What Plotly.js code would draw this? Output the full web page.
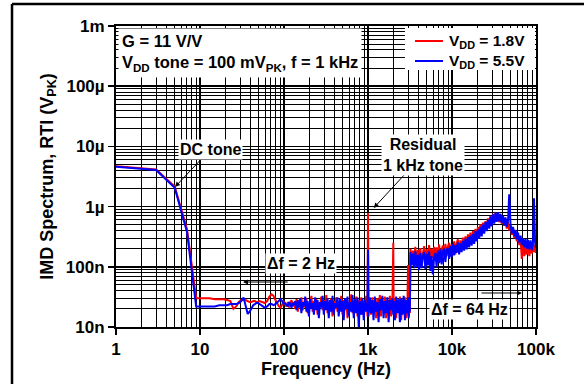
<!DOCTYPE html>
<html>
<head>
<meta charset="utf-8">
<script src="https://cdn.plot.ly/plotly-3.0.1.min.js"></script>
<style>html,body{margin:0;padding:0;background:#fff;}#chart{width:584px;height:384px;}</style>
</head>
<body>
<div id="chart"></div>
<script>
// ---- Data (frequency in Hz, amplitude in nV peak) ----
const lowFreq = [1,3,5,7,9,11,13,15,17,19,21,23,25,27,29,31,33,35,37,39,41,43,45,47,49,51,55,59,63,67,71,75,79,83,87,91,95,99];
const midFreq = [103,107,111,115,119,123,127,131,136,141,
  146,151,156,161,167,173,179,185,191,198,
  205,212,219,227,235,243,251,260,269,278,
  288,298,308,319,330,341,353,365,378,391,
  405,419,433,448,464,480,497,514,532,551,
  570,590,611,632,654,677,701,725,750,776,
  803,831,860,890,921,953,986,1000,1014,1050,
  1087,1125,1164,1205,1247,1291,1336,1383,1431,1481,
  1533,1587,1642,1700,1760,1822,1886,1952,2000,2020,
  2090,2163,2239,2317,2398,2482,2569,2659,2752,2848,
  2948,3000,3051,3110,3150];
const highFreq = [3200,3310,3420,3540,3660,3790,3920,4060,4200,4350,
  4500,4660,4820,4990,5160,5340,5530,5720,5920,6130,
  6340,6560,6790,7030,7280,7530,7790,8060,8340,8630,
  8930,9240,9560,9900,10240,10600,10970,11350,11750,12160,
  12580,13020,13480,13950,14440,14940,15460,16000,16560,17140,
  17740,18360,19000,19670,20360,21070,21800,22570,23360,24170,
  25020,25890,26800,27730,28700,29710,30750,31820,32940,34090,
  35280,36510,37790,39110,40480,41900,43360,44880,46450,48000,
  49750,51490,53300,55160,57090,59090,61160,63300,65510,67800,
  70180,72630,75170,77810,80530,83350,86260,89280,92410,94700,
  97600,100000];

const redLow = [4700,4150,2150,420,30,30,30,29,29,29,28,27,20,22,26,28,28,28,27,26,26,27,27,26,26,27,26,25,27,32,35,33,28,25,22,21,23,26];
const redMid = [24,22,26,21,25,28,22,26,20,29,
  18,27,23,31,19,26,21,30,17,25,
  22,33,18,27,20,29,16,26,23,32,
  19,28,21,34,17,25,22,30,15,27,
  20,31,18,26,21,33,16,28,19,30,
  14,26,22,35,17,27,20,32,15,28,
  19,31,16,27,21,33,15,780,19,29,
  16,31,18,26,14,30,20,34,15,27,
  19,32,14,28,21,33,15,26,250,18,
  30,14,27,20,32,13,28,19,31,14,
  26,107,15,24,17];
const redHigh = [200,120,185,135,215,110,190,145,205,120,
  175,220,115,195,135,230,125,200,140,215,
  130,210,150,235,125,195,225,140,240,150,
  215,250,150,235,170,265,160,245,285,175,
  275,190,305,200,320,215,345,240,370,250,
  390,265,425,290,460,320,505,350,540,390,
  575,410,640,450,700,500,760,540,790,570,
  770,550,730,520,680,480,620,430,550,400,
  500,340,440,300,390,265,340,230,290,135,
  260,150,230,160,245,150,235,165,250,175,
  230,170];

const blueLow = [4600,4050,2050,380,22,22,22,22,23,23,23,24,24,24,25,27,31,22,16.5,18,21,23,24,25,25,24,22,21,22,24,24,23,24,26,28,29,27,24];
const blueMid = [25,23,22,26,24,21,25,23,27,19,
  28,21,30,17,26,22,32,18,27,15,
  29,20,25,16,31,19,28,14,26,21,
  33,16,27,19,30,14,28,18,33,16,
  25,21,31,15,29,18,27,13,30,20,
  32,15,26,18,34,14,29,17,31,10,
  27,16,30,13,28,18,25,190,15,31,
  17,28,13,32,18,26,12,29,19,33,
  14,27,17,31,12,28,19,30,16,27,
  13,32,17,29,12,30,16,33,13,28,
  17,31,14,27,18];
const blueHigh = [175,105,165,95,180,100,160,88,170,95,
  150,175,92,165,105,180,85,150,75,145,
  170,100,185,115,195,110,180,200,120,190,
  205,135,220,145,240,155,230,170,255,160,
  245,175,270,185,290,195,310,210,330,225,
  350,240,390,265,420,290,460,320,500,355,
  550,390,610,430,680,470,740,520,790,560,
  800,570,760,530,710,490,660,460,580,1600,
  500,360,460,320,410,285,370,255,330,230,
  300,210,290,200,280,195,275,190,270,1380,
  250,205];

const seriesNames = ['V<sub>DD</sub> = 1.8V', 'V<sub>DD</sub> = 5.5V'];
const seriesColors = ['#ff0000', '#0000ff'];
const xTickVals = [1,10,100,1000,10000,100000];
const xTickText = ['1','10','100','1k','10k','100k'];
const yTickVals = [1e-8,1e-7,1e-6,1e-5,1e-4,1e-3];
const yTickText = ['10n','100n','1\u00b5','10\u00b5','100\u00b5','1m'];

// ---- Build ----
const freq = lowFreq.concat(midFreq, highFreq);
const toV = a => a.map(v => v * 1e-9);
const red = toV(redLow.concat(redMid, redHigh));
const blue = toV(blueLow.concat(blueMid, blueHigh));

const minorX = [], minorY = [];
for (let d = 0; d < 5; d++) for (let k = 2; k <= 9; k++) minorX.push(k * Math.pow(10, d));
for (let d = -8; d < -3; d++) for (let k = 2; k <= 9; k++) minorY.push(k * Math.pow(10, d));

const FAM = 'Liberation Sans, Arial, sans-serif';
const bf = (s) => ({family: FAM, size: s, color: '#000', weight: 'bold'});

const traces = [
  {x: freq, y: red, type: 'scatter', mode: 'lines', name: seriesNames[0], line: {color: seriesColors[0], width: 2}},
  {x: freq, y: blue, type: 'scatter', mode: 'lines', name: seriesNames[1], line: {color: seriesColors[1], width: 2}}
];

// manual legend placement (paper coords)
const legX0 = 0.688, legX1 = 0.9976, legY0 = 0.854, legY1 = 0.993;
const legLineX0 = 0.7119, legLineX1 = 0.7786, legTextX = 0.788;
const legRowY = [0.9501, 0.8837];

const L = Math.log10;
const annotations = [
  {xref: 'paper', yref: 'paper', x: 0, y: 1, xanchor: 'left', yanchor: 'top', xshift: 2, yshift: -2,
   text: 'G = 11 V/V<br>V<sub>DD</sub> tone = 100 mV<sub>PK</sub>, f = 1 kHz', align: 'left',
   showarrow: false, bgcolor: '#fff', font: bf(16.5), borderpad: 3},
  {x: L(5.04), y: L(2.12e-6), text: 'DC tone', showarrow: true, ax: 35, ay: -37, arrowhead: 2, arrowsize: 1, arrowwidth: 1, arrowcolor: '#000',
   bgcolor: '#fff', font: bf(16)},
  {x: L(1170), y: L(9.5e-7), text: 'Residual<br>1 kHz tone', showarrow: true, ax: 49, ay: -53, arrowhead: 2, arrowsize: 1, arrowwidth: 1, arrowcolor: '#000',
   bgcolor: '#fff', font: bf(16), align: 'center'},
  {x: 2.202, y: -6.953, text: '\u0394f = 2 Hz', showarrow: false, bgcolor: '#fff', font: bf(16)},
  {x: 4.214, y: -7.701, text: '\u0394f = 64 Hz', showarrow: false, bgcolor: '#fff', font: bf(16)},
  {x: 1.512, y: -7.253, ax: 1.512 + 0.55, ay: -7.253, axref: 'x', ayref: 'y', text: '', showarrow: true, arrowhead: 2, arrowsize: 1, arrowwidth: 1, arrowcolor: '#000'},
  {x: 4.833, y: -7.435, ax: 4.833 - 0.5, ay: -7.435, axref: 'x', ayref: 'y', text: '', showarrow: true, arrowhead: 2, arrowsize: 1, arrowwidth: 1, arrowcolor: '#000'},
  // legend text (both rows in one block)
  {xref: 'paper', yref: 'paper', x: legTextX, y: (legRowY[0] + legRowY[1]) / 2, xanchor: 'left', yanchor: 'middle',
   text: seriesNames.join('<br>'), align: 'left', showarrow: false, font: bf(15.5)}
];

const shapes = [
  {type: 'line', xref: 'paper', yref: 'paper', x0: -0.2476, x1: -0.2476, y0: -0.25, y1: 1.0731, line: {color: '#000', width: 2.5}},
  {type: 'line', xref: 'paper', yref: 'paper', x0: -0.2476, x1: 1.13, y0: 1.0731, y1: 1.0731, line: {color: '#000', width: 2.5}},
  {type: 'rect', xref: 'paper', yref: 'paper', layer: 'above', x0: legX0, x1: legX1, y0: legY0, y1: legY1, fillcolor: '#fff', line: {width: 0}}
];
seriesColors.forEach((c, i) => shapes.push({
  type: 'line', xref: 'paper', yref: 'paper', layer: 'above', x0: legLineX0, x1: legLineX1, y0: legRowY[i], y1: legRowY[i],
  line: {color: c, width: 2}
}));

const axisCommon = {
  type: 'log', tickmode: 'array', showgrid: true, gridcolor: '#000', gridwidth: 1.5,
  showline: true, linecolor: '#000', linewidth: 2, mirror: true,
  ticks: 'outside', ticklen: 6, tickwidth: 1.5, tickcolor: '#000',
  tickfont: bf(17), zeroline: false
};

const layout = {
  width: 584, height: 384,
  margin: {l: 116, r: 48, t: 26, b: 57},
  paper_bgcolor: '#fff', plot_bgcolor: '#fff',
  font: {family: FAM, color: '#000', weight: 'bold'},
  showlegend: false,
  xaxis: Object.assign({}, axisCommon, {
    range: [0, 5], tickvals: xTickVals, ticktext: xTickText,
    minor: {tickmode: 'array', tickvals: minorX, showgrid: true, gridcolor: '#000', gridwidth: 1, ticks: ''},
    title: {text: 'Frequency (Hz)', font: bf(18), standoff: 2}
  }),
  yaxis: Object.assign({}, axisCommon, {
    range: [-8, -3], tickvals: yTickVals, ticktext: yTickText,
    minor: {tickmode: 'array', tickvals: minorY, showgrid: true, gridcolor: '#000', gridwidth: 1, ticks: ''},
    title: {text: 'IMD Spectrum, RTI (V<sub>PK</sub>)', font: bf(18), standoff: 8}
  }),
  annotations: annotations,
  shapes: shapes
};

Plotly.newPlot('chart', traces, layout, {staticPlot: true, displayModeBar: false});
</script>
</body>
</html>
